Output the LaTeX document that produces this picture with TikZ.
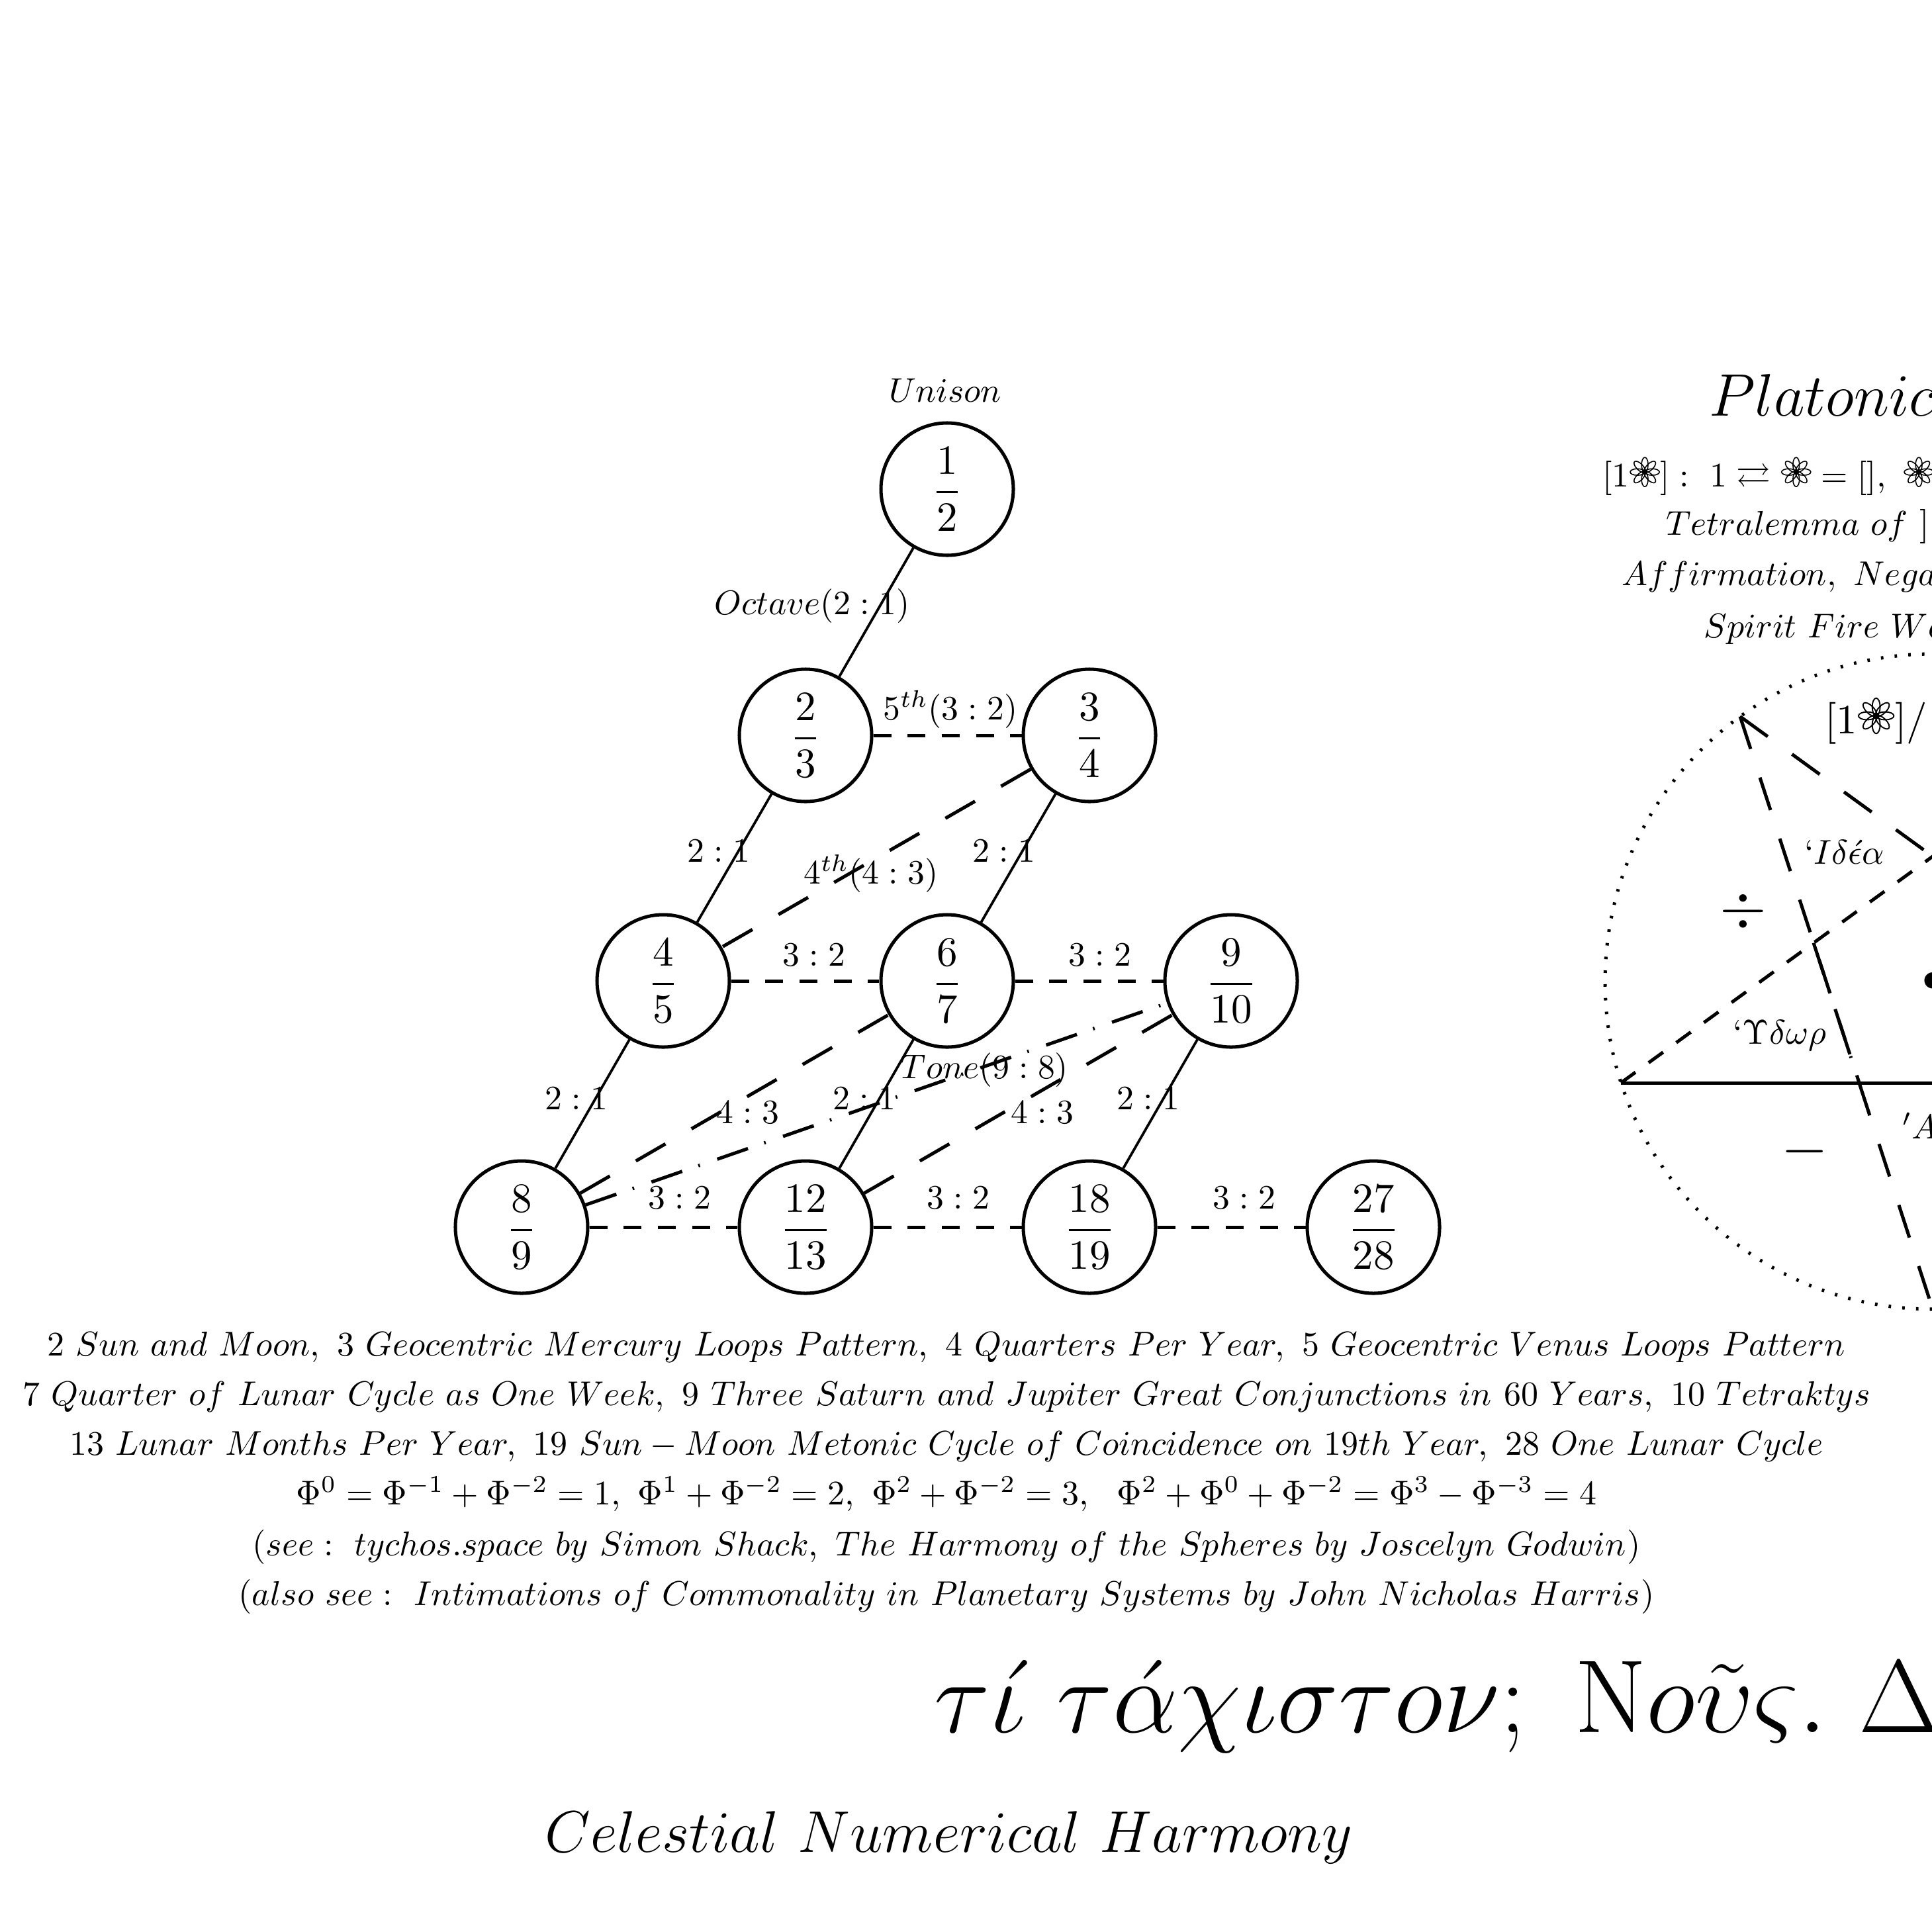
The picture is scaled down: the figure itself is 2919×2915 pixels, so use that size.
\documentclass[tikz,border=0pt]{standalone}
\usepackage{amsmath,amssymb}
\usepackage{graphicx}
\newcommand{\flw}{\mbox{\tikz[x=1pt,y=1pt,baseline=0pt,line width=0.3pt]{%
  \path (-4.5,0) -- (4.5,0);%
  \foreach \a in {0,45,...,315} {\draw[shift={(0,4.2)},rotate=\a] (2.15,0) ellipse[x radius=2.1, y radius=0.95];}%
  \fill (0,4.2) circle[radius=0.85];}}}
\newcommand{\lb}[1]{\scalebox{0.82}{$#1$}}
\newcommand{\bt}[1]{\scalebox{0.825}{$#1$}}
\begin{document}
\begin{tikzpicture}[x=0.15873pt,y=-0.15873pt]
\tikzset{
 num/.style={circle, draw, line width=0.8pt, minimum size=31.75pt, inner sep=0pt},
 solidc/.style={line width=0.6pt},
 shortd/.style={line width=0.8pt, dash pattern=on 4.3pt off 3.9pt},
 longd/.style={line width=0.8pt, dash pattern=on 8.2pt off 7.2pt},
 dashdotc/.style={line width=0.8pt, dash pattern=on 7.8pt off 4.1pt on 0.4pt off 4.4pt},
 lbl/.style={inner sep=0pt},
 txt/.style={inner sep=0pt, anchor=base},
 txtw/.style={inner sep=0pt, anchor=base west},
 dotc/.style={line width=0.8pt, dash pattern=on 0.6pt off 2.7pt},
}
\useasboundingbox (0,0) rectangle (2919,2915);
\fill[white] (0,0) rectangle (2919,2915);
\clip (0,0) rectangle (2919,2915);

% ---- lattice nodes
\node[num] (n12)   at (1431,739)  {$\dfrac{1}{2}$};
\node[num] (n23)   at (1217,1111) {$\dfrac{2}{3}$};
\node[num] (n34)   at (1646,1111) {$\dfrac{3}{4}$};
\node[num] (n45)   at (1002,1482) {$\dfrac{4}{5}$};
\node[num] (n67)   at (1431,1482) {$\dfrac{6}{7}$};
\node[num] (n910)  at (1860,1482) {$\dfrac{9}{10}$};
\node[num] (n89)   at (788,1854)  {$\dfrac{8}{9}$};
\node[num] (n1213) at (1217,1854) {$\dfrac{12}{13}$};
\node[num] (n1819) at (1646,1854) {$\dfrac{18}{19}$};
\node[num] (n2728) at (2075,1854) {$\dfrac{27}{28}$};

\node[lbl] (unison) at (1428,590) {\lb{Unison}};

% ---- connectors
\draw[solidc] (n12) -- (n23);
\draw[shortd] (n23) -- (n34);
\draw[solidc] (n23) -- (n45);
\draw[solidc] (n34) -- (n67);
\draw[longd]  (n34) -- (n45);
\draw[shortd] (n45) -- (n67);
\draw[shortd] (n67) -- (n910);
\draw[solidc] (n45) -- (n89);
\draw[solidc] (n67) -- (n1213);
\draw[solidc] (n910) -- (n1819);
\draw[longd]  (n89) -- (n67);
\draw[longd]  (n1213) -- (n910);
\draw[dashdotc] (n89) -- (n910);
\draw[shortd] (n89) -- (n1213);
\draw[shortd] (n1213) -- (n1819);
\draw[shortd] (n1819) -- (n2728);

% ---- connector labels
\node[lbl] (l1)  at (1227,916)  {\lb{Octave(2:1)}};
\node[lbl] (l2)  at (1436,1072) {\lb{5^{th}(3:2)}};
\node[lbl] (l3)  at (1086,1286) {\lb{2:1}};
\node[lbl] (l4)  at (1517,1286) {\lb{2:1}};
\node[lbl] (l5)  at (1316,1320) {\lb{4^{th}(4:3)}};
\node[lbl] (l6)  at (1230,1443) {\lb{3:2}};
\node[lbl] (l7)  at (1662,1443) {\lb{3:2}};
\node[lbl] (l8)  at (871,1660)  {\lb{2:1}};
\node[lbl] (l9)  at (1306,1660) {\lb{2:1}};
\node[lbl] (l10) at (1735,1660) {\lb{2:1}};
\node[lbl] (l11) at (1130,1681) {\lb{4:3}};
\node[lbl] (l12) at (1575,1681) {\lb{4:3}};
\node[lbl] (l13) at (1488,1617) {\lb{Tone(9:8)}};
\node[lbl] (l14) at (1027,1810) {\lb{3:2}};
\node[lbl] (l15) at (1448,1810) {\lb{3:2}};
\node[lbl] (l16) at (1880,1810) {\lb{3:2}};

% ---- bottom text
\node[txt] (b1) at (1430,2048) {\bt{2\ Sun\ and\ Moon,\ 3\ Geocentric\ Mercury\ Loops\ Pattern,\ 4\ Quarters\ Per\ Year,\ 5\ Geocentric\ Venus\ Loops\ Pattern}};
\node[txt] (b2) at (1430,2123) {\bt{7\ Quarter\ of\ Lunar\ Cycle\ as\ One\ Week,\ 9\ Three\ Saturn\ and\ Jupiter\ Great\ Conjunctions\ in\ 60\ Years,\ 10\ Tetraktys}};
\node[txt] (b3) at (1430,2198) {\bt{13\ Lunar\ Months\ Per\ Year,\ 19\ Sun-Moon\ Metonic\ Cycle\ of\ Coincidence\ on\ 19th\ Year,\ 28\ One\ Lunar\ Cycle}};
\node[txt] (b4) at (1430,2273) {\bt{\Phi^0=\Phi^{-1}+\Phi^{-2}=1,\ \Phi^1+\Phi^{-2}=2,\ \Phi^2+\Phi^{-2}=3,\ \ \Phi^2+\Phi^0+\Phi^{-2}=\Phi^3-\Phi^{-3}=4}};
\node[txt] (b5) at (1430,2350) {\bt{(see:\ tychos.space\ by\ Simon\ Shack,\ The\ Harmony\ of\ the\ Spheres\ by\ Joscelyn\ Godwin)}};
\node[txt] (b6) at (1430,2425) {\bt{(also\ see:\ Intimations\ of\ Commonality\ in\ Planetary\ Systems\ by\ John\ Nicholas\ Harris)}};

\node[txtw,font=\Huge] (greek) at (1410,2617) {$\tau\acute{\iota}\ \tau\acute{\alpha}\chi\iota\sigma\tau o\nu;\ \mathrm{N}o\tilde{\upsilon}\varsigma.\ \Delta$};
\node[txt] (title) at (1434,2798) {\scalebox{0.98}{\Large$Celestial\ Numerical\ Harmony$}};

% ---- right column text
\node[txtw,font=\Large] (plat) at (2581,628) {$Platonic$};
\node[txtw] (r2) at (2420,735) {\bt{[1\flw]:\ 1\rightleftarrows\flw=[],\ \flw}};
\node[txtw] (r3) at (2516,808) {\bt{Tetralemma\ of\ ]}};
\node[txtw] (r4) at (2449,884) {\bt{Affirmation,\ Negation}};
\node[txtw] (r5) at (2573,963) {\bt{Spirit\ Fire\ Water}};

% ---- circle and pentagram
\coordinate (pc) at (2920,1483);
\coordinate (v54) at (3211,1082.5);
\coordinate (v126) at (2629,1082.5);
\coordinate (v198) at (2449,1636);
\coordinate (v270) at (2920,1978);
\coordinate (v342) at (3391,1636);
\coordinate (i162) at (2740,1424.6);
\coordinate (i234) at (2809,1636);
\draw[dotc] (pc) circle[radius=78.57pt];
\draw[longd] (v126) -- (v270);
\draw[longd] (v126) -- (v342);
\draw[shortd] (v198) -- (v54);
\draw[line width=0.8pt] (v198) -- (v342);
\draw[dashdotc] (i162) -- (i234);
\node[inner sep=0pt] (ctr) at (pc) {$\bullet$};

\node[txtw] (top) at (2756,1108) {$[1\flw]/[]$};
\node[inner sep=0pt,font=\Large] (divs) at (2634,1377) {$\div$};
\node[inner sep=0pt,font=\Large] (mins) at (2727,1740) {$-$};
\node[txtw] (idea) at (2725,1305) {\bt{`I\delta\acute{\epsilon}\alpha}};
\node[txtw] (hydor) at (2617,1577) {\bt{`\Upsilon\delta\omega\rho}};
\node[txtw] (aer) at (2873,1720) {\bt{'A\acute{\eta}\rho}};
\end{tikzpicture}
\end{document}
